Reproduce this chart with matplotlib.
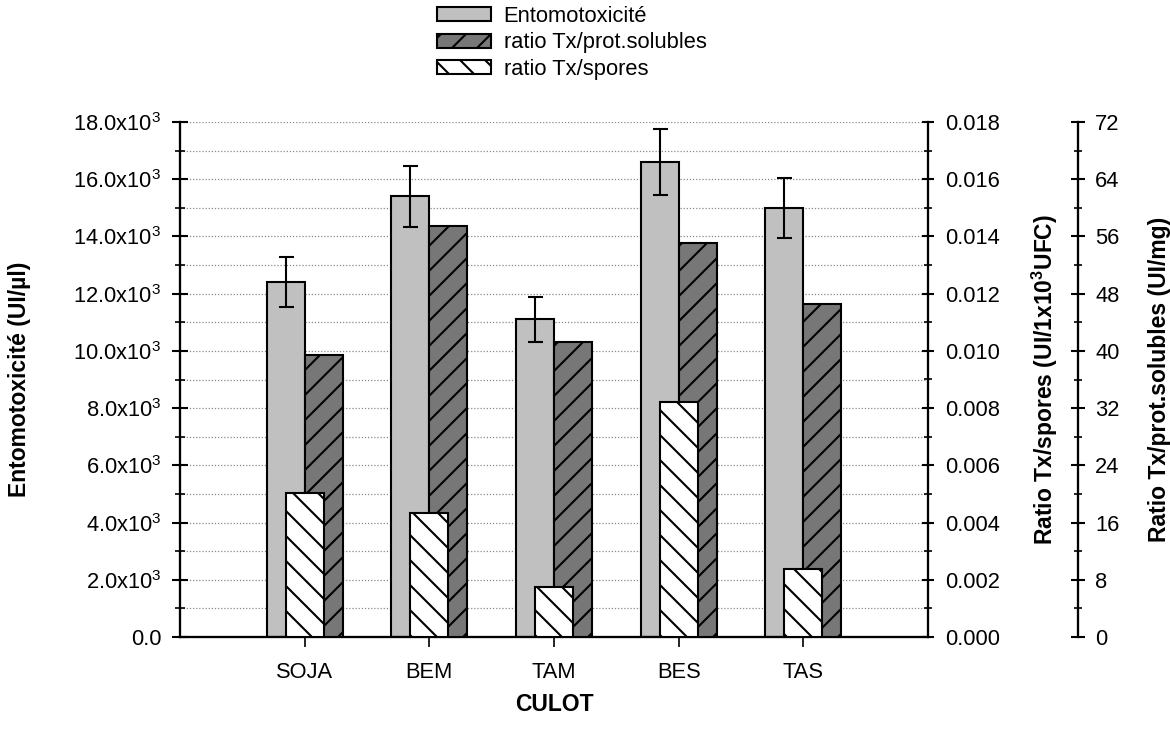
import numpy as np
import matplotlib
matplotlib.use("Agg")
import matplotlib.pyplot as plt
from matplotlib.ticker import MultipleLocator, FixedLocator

plt.rcParams['font.family'] = ['Liberation Sans', 'DejaVu Sans']
plt.rcParams['mathtext.fontset'] = 'custom'
plt.rcParams['mathtext.rm'] = 'Liberation Sans'
plt.rcParams['mathtext.it'] = 'Liberation Sans:italic'
plt.rcParams['mathtext.bf'] = 'Liberation Sans:bold'
plt.rcParams['hatch.linewidth'] = 1.0

# Data per culture medium (culot)
categories = ['SOJA', 'BEM', 'TAM', 'BES', 'TAS']
entomotox = [12400, 15400, 11100, 16600, 15000]        # UI/µl
entomotox_err = [870, 1060, 800, 1150, 1050]
ratio_prot = [39.4, 57.5, 41.3, 55.1, 46.6]             # UI/mg
ratio_spores = [0.00503, 0.00434, 0.00175, 0.00822, 0.00238]  # UI/1x10^3 UFC

left_ticks = [0, 2000, 4000, 6000, 8000, 10000, 12000, 14000, 16000, 18000]
left_ticklabels = ['0.0'] + [f'{v/1000:.1f}x10$^{{3}}$' for v in left_ticks[1:]]
spores_ticks = [0.000, 0.002, 0.004, 0.006, 0.008, 0.010, 0.012, 0.014, 0.016, 0.018]
prot_ticks = [0, 8, 16, 24, 32, 40, 48, 56, 64, 72]

W, H, DPI = 1170, 732, 150
fig = plt.figure(figsize=(W / DPI, H / DPI), dpi=DPI)
ax = fig.add_axes([180 / W, 95 / H, 748 / W, 515 / H])

x = np.arange(len(categories))
w = 0.305
lw = 1.0

b_ent = ax.bar(x - w / 2, entomotox, w, color='#c0c0c0', edgecolor='black',
               linewidth=lw, zorder=2)
ax.errorbar(x - w / 2, entomotox, yerr=entomotox_err, fmt='none', ecolor='black',
            elinewidth=1.0, capsize=3.6, capthick=1.0, zorder=3)

# Axis for protein ratio (outer right), drawn before the spores axis
ax3 = ax.twinx()
b_prot = ax3.bar(x + w / 2, ratio_prot, w, color='#777777', edgecolor='black',
                 hatch='//', linewidth=lw)

# Axis for spores ratio (inner right), drawn on top
ax2 = ax.twinx()
b_spo = ax2.bar(x, ratio_spores, w, color='white', edgecolor='black',
                hatch='\\\\', linewidth=lw)

ax.set_xlim(-1, 5)
ax.set_ylim(0, 18000)
ax2.set_ylim(0, 0.018)
ax3.set_ylim(0, 72)

# Main axis styling
ax.set_axisbelow(True)
ax.set_yticks(left_ticks)
ax.set_yticklabels(left_ticklabels)
ax.yaxis.set_minor_locator(MultipleLocator(1000))
ax.yaxis.grid(True, which='both', linestyle=(0, (1, 1.5)), color='#8a8a8a',
              linewidth=0.6)
ax.tick_params(axis='y', which='major', direction='inout', length=8, width=1.0,
               labelsize=10.5, pad=5)
ax.tick_params(axis='y', which='minor', direction='inout', length=4.5, width=0.8)
ax.set_xticks(x)
ax.set_xticklabels(categories)
ax.tick_params(axis='x', direction='out', length=4.8, width=0.8, labelsize=10.5, pad=7)
for s in ('top', 'right'):
    ax.spines[s].set_visible(False)
for s in ('left', 'bottom'):
    ax.spines[s].set_linewidth(1.1)

ax.set_ylabel('Entomotoxicité (UI/µl)', fontsize=11, fontweight='bold',
              va='center', ha='center')
ax.yaxis.set_label_coords(-0.214, 0.5)
ax.set_xlabel('CULOT', fontsize=11, fontweight='bold', va='center')
ax.xaxis.set_label_coords(0.5, -0.132)

# Spores axis styling
ax2.yaxis.set_major_locator(FixedLocator(spores_ticks))
ax2.yaxis.set_minor_locator(MultipleLocator(0.001))
ax2.set_yticklabels([f'{v:.3f}' for v in spores_ticks])
ax2.tick_params(axis='y', which='major', direction='inout', length=6, width=1.0,
                labelsize=10.5, pad=5)
ax2.tick_params(axis='y', which='minor', direction='inout', length=3.5, width=0.8)
for s in ('left', 'top', 'bottom'):
    ax2.spines[s].set_visible(False)
ax2.spines['right'].set_linewidth(1.1)
ax2.set_ylabel('Ratio Tx/spores (UI/1x10$^{\\mathbf{3}}$UFC)', fontsize=11,
               fontweight='bold', va='center', ha='center')
ax2.yaxis.set_label_coords(1.156, 0.5)

# Protein axis styling
ax3.spines['right'].set_position(('axes', 1.2))
ax3.yaxis.set_major_locator(FixedLocator(prot_ticks))
ax3.yaxis.set_minor_locator(MultipleLocator(4))
ax3.set_yticklabels([str(v) for v in prot_ticks])
ax3.tick_params(axis='y', which='major', direction='inout', length=7, width=1.0,
                labelsize=10.5, pad=5)
ax3.tick_params(axis='y', which='minor', direction='inout', length=4, width=0.8)
for s in ('left', 'top', 'bottom'):
    ax3.spines[s].set_visible(False)
ax3.spines['right'].set_linewidth(1.1)
ax3.set_ylabel('Ratio Tx/prot.solubles (UI/mg)', fontsize=11, fontweight='bold',
               va='center', ha='center')
ax3.yaxis.set_label_coords(1.309, 0.5)

fig.legend(handles=[b_ent, b_prot, b_spo],
           labels=['Entomotoxicité', 'ratio Tx/prot.solubles', 'ratio Tx/spores'],
           loc='upper left', bbox_to_anchor=(437 / W, 1 - 6 / H), frameon=False,
           fontsize=10.5, handlelength=2.45, handleheight=0.6, handletextpad=0.6,
           labelspacing=0.25, borderpad=0, borderaxespad=0)

fig.savefig('out.png', dpi=DPI, facecolor='white')
